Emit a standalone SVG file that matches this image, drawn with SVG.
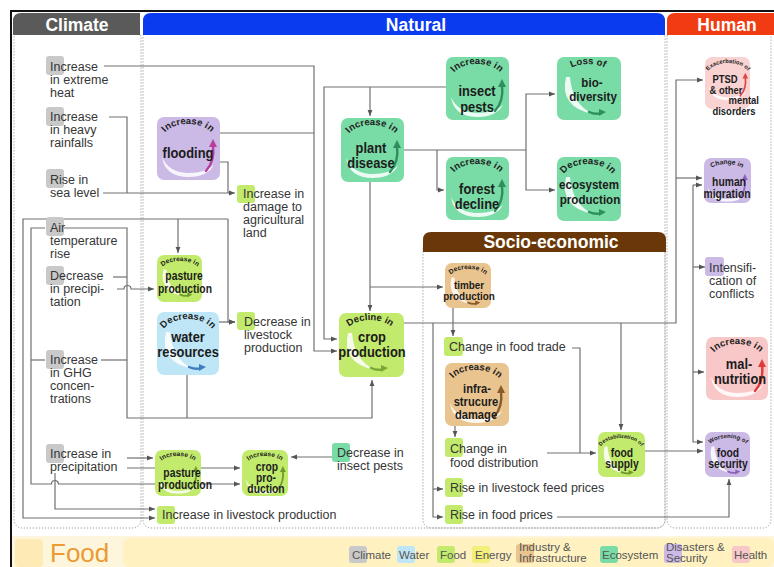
<svg xmlns="http://www.w3.org/2000/svg" width="774" height="567" viewBox="0 0 774 567">
<style>
  .t { font-family: "Liberation Sans", Arial, sans-serif; font-size: 12.5px; fill: #363636; }
  .lb { font-family: "Liberation Sans", Arial, sans-serif; font-weight: bold; font-size: 15px; fill: #1c1c1c; text-anchor: middle; }
  .ls { font-family: "Liberation Sans", Arial, sans-serif; font-weight: bold; font-size: 12px; fill: #1c1c1c; text-anchor: middle; }
  .arcL { font-family: "Liberation Sans", Arial, sans-serif; font-weight: bold; font-size: 9.5px; fill: #222; text-anchor: middle; }
  .arcS { font-family: "Liberation Sans", Arial, sans-serif; font-weight: bold; font-size: 6.6px; fill: #222; text-anchor: middle; }
  .hd { font-family: "Liberation Sans", Arial, sans-serif; font-weight: bold; font-size: 17.5px; fill: #fff; text-anchor: middle; }
  .lg { font-family: "Liberation Sans", Arial, sans-serif; font-size: 11.5px; fill: #555; }
  .cn path { fill: none; stroke: #717171; stroke-width: 1.2; }
  .m { marker-end: url(#ah); }
  .pan { fill: none; stroke: #9a9a9a; stroke-width: 1; stroke-dasharray: 1.2 1.8; }
  .sq { rx: 3; }
  .cli { fill: #c9c9c9; }
  .fd { fill: #c2ea6c; }
  .eco { fill: #79dba5; }
  .dis { fill: #cbb9e6; }
  .wat { fill: #bfe6f6; }
  .ind { fill: #eac48e; }
  .hl { fill: #f8c8c8; }
  .en { fill: #f2ef7a; }
  .bx { rx: 7; }
  .sw { fill: #fff; opacity: 0.85; }
  .tail { fill: none; stroke: currentColor; stroke-width: 2.4; stroke-linecap: round; }
  .head { fill: currentColor; }
</style>
<defs>
  <marker id="ah" viewBox="0 0 6 6" refX="6" refY="3" markerWidth="6" markerHeight="6" markerUnits="userSpaceOnUse" orient="auto">
    <path d="M0,0.6 L6,3 L0,5.4 Z" fill="#555"/>
  </marker>
  <!-- arcs carrying the curved captions, in box-local coordinates -->
  <path id="aL" d="M5,23 A26,16 0 0 1 57,23"/>
  <path id="aS" d="M3,17 A20,11 0 0 1 43,17"/>
  <path id="aS2" d="M1,20 A22,14 0 0 1 45,20"/>
  <!-- swooshes: rising (up) and falling (down) -->
  <g id="swU">
    <path class="sw" d="M5,40 Q8,60 32,60 Q50,60 57,48 Q48,56 32,56 Q12,56 5,40 Z"/>
    <path class="tail" d="M49,54 Q58,44 56,28"/>
    <path class="head" d="M52,30 L56,22 L60,30 Z"/>
  </g>
  <g id="swD">
    <path class="sw" d="M9,20 Q2,50 36,57 Q15,47 13,20 Z"/>
    <path class="tail" d="M32,55 Q39,58 44,56"/>
    <path class="head" d="M42,52 L49,55 L42,59 Z"/>
  </g>
</defs>

<!-- page frame -->
<rect x="0" y="0" width="774" height="567" fill="#fff"/>
<path d="M11,567 V11 H774" fill="none" stroke="#111" stroke-width="2"/>

<!-- column panels -->
<rect class="pan" x="14" y="30" width="127" height="498" rx="8"/>
<rect class="pan" x="143" y="30" width="522" height="498" rx="8"/>
<rect class="pan" x="667" y="30" width="104" height="498" rx="8"/>
<rect class="pan" x="423" y="240" width="242" height="288" rx="8"/>

<!-- column headers -->
<g id="hdr-climate">
  <path d="M13,35 V21 Q13,13 21,13 H140 V35 Z" fill="#5a5a5a"/>
  <text class="hd" x="77" y="31">Climate</text>
</g>
<g id="hdr-natural">
  <path d="M143,35 V21 Q143,13 151,13 H657 Q665,13 665,21 V35 Z" fill="#0a3bef"/>
  <text class="hd" x="416" y="31">Natural</text>
</g>
<g id="hdr-human">
  <path d="M667,35 V21 Q667,13 675,13 H774 V35 Z" fill="#f13b12"/>
  <text class="hd" x="727" y="31">Human</text>
</g>
<g id="hdr-socio">
  <path d="M423,252 V240 Q423,232 431,232 H658 Q666,232 666,240 V252 Z" fill="#6a3808"/>
  <text class="hd" x="551" y="248">Socio-economic</text>
</g>

<!-- connectors -->
<g class="cn" id="connectors">
  <path class="m" d="M104,66 H314 V351 H337"/>
  <path d="M220,133 H314"/>
  <path d="M109,117 H127 V193"/>
  <path class="m" d="M103,193 H235"/>
  <path d="M220,162 H228 V193"/>
  <path class="m" d="M446,87 H324 V339 H337"/>
  <path class="m" d="M370,87 V116"/>
  <path d="M404,150 H526"/>
  <path class="m" d="M526,150 V94 H555"/>
  <path class="m" d="M526,150 V190 H555"/>
  <path class="m" d="M437,150 V190 H444"/>
  <path class="m" d="M370,182 V311"/>
  <path class="m" d="M370,287 H443"/>
  <path class="m" d="M178,219 V253"/>
  <path class="m" d="M228,219 H23 V518 H155"/>
  <path class="m" d="M228,219 V322 H235"/>
  <path class="m" d="M63,228 H127 V418 H372 V380"/>
  <path d="M113,277 H127"/>
  <path class="m" d="M117,289 H124 a3.5,3.5 0 0 1 7,0 H154"/>
  <path d="M101,360 H127"/>
  <path class="m" d="M45,228 H31 V484 H51.5 a3.5,3.5 0 0 1 7,0 H240"/>
  <path d="M31,360 H45"/>
  <path class="m" d="M127,458 H153"/>
  <path class="m" d="M127,468 H240"/>
  <path class="m" d="M55,473 V509 H155"/>
  <path class="m" d="M219,322 H235"/>
  <path d="M187,375 V418"/>
  <path class="m" d="M404,323 H676 V80 H703"/>
  <path class="m" d="M676,178 H702"/>
  <path class="m" d="M433,323 V517 H443"/>
  <path class="m" d="M433,489 H443"/>
  <path class="m" d="M621,323 V430"/>
  <path class="m" d="M453,308 V336"/>
  <path d="M572,348 H580 V453"/>
  <path class="m" d="M547,453 H596"/>
  <path class="m" d="M455,426 V437"/>
  <path class="m" d="M645,451 H703"/>
  <path class="m" d="M693,185 H702"/>
  <path class="m" d="M693,185 V442 H703"/>
  <path class="m" d="M693,267 H705"/>
  <path class="m" d="M693,372 H704"/>
  <path class="m" d="M557,517 H729 V479"/>
  <path class="m" d="M332,457 H291"/>
</g>

<!-- climate drivers -->
<g id="n-heat">
  <rect class="sq cli" x="46" y="56" width="18" height="19"/>
  <text class="t" x="50" y="71">Increase</text>
  <text class="t" x="50" y="84">in extreme</text>
  <text class="t" x="50" y="97">heat</text>
</g>
<g id="n-rainfall">
  <rect class="sq cli" x="46" y="107" width="18" height="19"/>
  <text class="t" x="50" y="121">Increase</text>
  <text class="t" x="50" y="134">in heavy</text>
  <text class="t" x="50" y="147">rainfalls</text>
</g>
<g id="n-sealevel">
  <rect class="sq cli" x="46" y="169" width="18" height="19"/>
  <text class="t" x="50" y="184">Rise in</text>
  <text class="t" x="50" y="197">sea level</text>
</g>
<g id="n-airtemp">
  <rect class="sq cli" x="46" y="217" width="18" height="19"/>
  <text class="t" x="50" y="232">Air</text>
  <text class="t" x="50" y="245">temperature</text>
  <text class="t" x="50" y="258">rise</text>
</g>
<g id="n-precip-dec">
  <rect class="sq cli" x="46" y="266" width="18" height="19"/>
  <text class="t" x="50" y="280">Decrease</text>
  <text class="t" x="50" y="293">in precipi-</text>
  <text class="t" x="50" y="306">tation</text>
</g>
<g id="n-ghg">
  <rect class="sq cli" x="46" y="350" width="18" height="19"/>
  <text class="t" x="50" y="364">Increase</text>
  <text class="t" x="50" y="377">in GHG</text>
  <text class="t" x="50" y="390">concen-</text>
  <text class="t" x="50" y="403">trations</text>
</g>
<g id="n-precip-inc">
  <rect class="sq cli" x="46" y="444" width="18" height="19"/>
  <text class="t" x="50" y="458">Increase in</text>
  <text class="t" x="50" y="471">precipitation</text>
</g>

<!-- natural -->
<g id="n-flooding" transform="translate(157,117)" color="#b8409c">
  <rect class="bx dis" width="63" height="63"/>
  <use href="#swU"/>
  <text class="arcL"><textPath href="#aL" startOffset="50%">Increase in</textPath></text>
  <text class="lb" transform="translate(31,41) scale(.86,1)">flooding</text>
</g>
<g id="n-damage">
  <rect class="sq fd" x="237" y="185" width="18" height="18"/>
  <text class="t" x="243" y="198">Increase in</text>
  <text class="t" x="243" y="211">damage to</text>
  <text class="t" x="243" y="224">agricultural</text>
  <text class="t" x="243" y="237">land</text>
</g>
<g id="n-pasture-dec" transform="translate(157,255)" color="#6c9a2a">
  <rect class="bx fd" width="45" height="47"/>
  <g transform="scale(.72)"><use href="#swD"/></g>
  <text class="arcS"><textPath href="#aS" startOffset="50%">Decrease in</textPath></text>
  <text class="ls" transform="translate(27,25) scale(.86,1)">pasture</text>
  <text class="ls" transform="translate(28,38) scale(.86,1)">production</text>
</g>
<g id="n-water" transform="translate(157,312)" color="#3f7fc0">
  <rect class="bx wat" width="62" height="63"/>
  <use href="#swD"/>
  <text class="arcL"><textPath href="#aL" startOffset="50%">Decrease in</textPath></text>
  <text class="lb" transform="translate(31,30) scale(.86,1)">water</text>
  <text class="lb" transform="translate(31,45) scale(.86,1)">resources</text>
</g>
<g id="n-livestock-dec">
  <rect class="sq fd" x="237" y="312" width="18" height="18"/>
  <text class="t" x="244" y="326">Decrease in</text>
  <text class="t" x="244" y="339">livestock</text>
  <text class="t" x="244" y="352">production</text>
</g>
<g id="n-plant" transform="translate(341,118)" color="#2f8f5c">
  <rect class="bx eco" width="63" height="64"/>
  <use href="#swU"/>
  <text class="arcL"><textPath href="#aL" startOffset="50%">Increase in</textPath></text>
  <text class="lb" transform="translate(30,35) scale(.86,1)">plant</text>
  <text class="lb" transform="translate(30,50) scale(.86,1)">disease</text>
</g>
<g id="n-insect" transform="translate(446,57)" color="#2f8f5c">
  <rect class="bx eco" width="63" height="63"/>
  <use href="#swU"/>
  <text class="arcL"><textPath href="#aL" startOffset="50%">Increase in</textPath></text>
  <text class="lb" transform="translate(31,39) scale(.86,1)">insect</text>
  <text class="lb" transform="translate(31,55) scale(.86,1)">pests</text>
</g>
<g id="n-forest" transform="translate(446,157)" color="#2f8f5c">
  <rect class="bx eco" width="63" height="63"/>
  <use href="#swU"/>
  <text class="arcL"><textPath href="#aL" startOffset="50%">Increase in</textPath></text>
  <text class="lb" transform="translate(31,37) scale(.86,1)">forest</text>
  <text class="lb" transform="translate(31,52) scale(.86,1)">decline</text>
</g>
<g id="n-biodiversity" transform="translate(557,57)" color="#2f8f5c">
  <rect class="bx eco" width="64" height="63"/>
  <use href="#swD"/>
  <text class="arcL"><textPath href="#aL" startOffset="50%">Loss of</textPath></text>
  <text class="lb" transform="translate(35,30) scale(.86,1)" style="font-size:13.5px">bio-</text>
  <text class="lb" transform="translate(36,44) scale(.86,1)" style="font-size:13.5px">diversity</text>
</g>
<g id="n-ecosystem" transform="translate(557,157)" color="#2f8f5c">
  <rect class="bx eco" width="64" height="64"/>
  <use href="#swD"/>
  <text class="arcL"><textPath href="#aL" startOffset="50%">Decrease in</textPath></text>
  <text class="lb" transform="translate(32,32) scale(.86,1)" style="font-size:13.5px">ecosystem</text>
  <text class="lb" transform="translate(33,47) scale(.86,1)" style="font-size:13.5px">production</text>
</g>
<g id="n-crop-dec" transform="translate(339,313)" color="#7aa838">
  <rect class="bx fd" width="65" height="64"/>
  <use href="#swD"/>
  <text class="arcL"><textPath href="#aL" startOffset="50%">Decline in</textPath></text>
  <text class="lb" transform="translate(33,29) scale(.86,1)">crop</text>
  <text class="lb" transform="translate(33,44) scale(.86,1)">production</text>
</g>
<g id="n-pasture-inc" transform="translate(155,450)" color="#6c9a2a">
  <rect class="bx fd" width="46" height="46"/>
  <g transform="scale(.73)"><use href="#swU"/></g>
  <text class="arcS"><textPath href="#aS" startOffset="50%">Increase in</textPath></text>
  <text class="ls" transform="translate(27,27) scale(.86,1)">pasture</text>
  <text class="ls" transform="translate(30,39) scale(.86,1)">production</text>
</g>
<g id="n-crop-inc" transform="translate(242,450)" color="#6c9a2a">
  <rect class="bx fd" width="46" height="46"/>
  <g transform="scale(.73)"><use href="#swU"/></g>
  <text class="arcS"><textPath href="#aS" startOffset="50%">Increase in</textPath></text>
  <text class="ls" transform="translate(25,21) scale(.86,1)">crop</text>
  <text class="ls" transform="translate(24,32) scale(.86,1)">pro-</text>
  <text class="ls" transform="translate(24,43) scale(.86,1)">duction</text>
</g>
<g id="n-insect-dec">
  <rect class="sq eco" x="332" y="443" width="18" height="19"/>
  <text class="t" x="337" y="457">Decrease in</text>
  <text class="t" x="337" y="470">insect pests</text>
</g>
<g id="n-livestock-inc">
  <rect class="sq fd" x="157" y="506" width="18" height="18"/>
  <text class="t" x="162" y="519">Increase in livestock production</text>
</g>

<!-- socio-economic -->
<g id="n-timber" transform="translate(445,263)" color="#8a5a2a">
  <rect class="bx ind" width="46" height="45"/>
  <g transform="scale(.72)"><use href="#swD"/></g>
  <text class="arcS"><textPath href="#aS" startOffset="50%">Decrease in</textPath></text>
  <text class="ls" transform="translate(24,26) scale(.86,1)" style="font-size:11.5px">timber</text>
  <text class="ls" transform="translate(24,37) scale(.86,1)" style="font-size:11.5px">production</text>
</g>
<g id="n-trade">
  <rect class="sq fd" x="444" y="337" width="19" height="19"/>
  <text class="t" x="449" y="351">Change in food trade</text>
</g>
<g id="n-infra" transform="translate(445,363)" color="#8a5a2a">
  <rect class="bx ind" width="64" height="63"/>
  <use href="#swU"/>
  <text class="arcL"><textPath href="#aL" startOffset="50%">Increase in</textPath></text>
  <text class="lb" transform="translate(32,30) scale(.86,1)" style="font-size:13px">infra-</text>
  <text class="lb" transform="translate(31,43) scale(.86,1)" style="font-size:13px">strucure</text>
  <text class="lb" transform="translate(31,56) scale(.86,1)" style="font-size:13px">damage</text>
</g>
<g id="n-distribution">
  <rect class="sq fd" x="445" y="438" width="18" height="19"/>
  <text class="t" x="450" y="453">Change in</text>
  <text class="t" x="450" y="467">food distribution</text>
</g>
<g id="n-feed-prices">
  <rect class="sq fd" x="445" y="478" width="18" height="19"/>
  <text class="t" x="450" y="492">Rise in livestock feed prices</text>
</g>
<g id="n-food-prices">
  <rect class="sq fd" x="445" y="505" width="18" height="19"/>
  <text class="t" x="450" y="519">Rise in food prices</text>
</g>
<g id="n-food-supply" transform="translate(598,432)" color="#6c9a2a">
  <rect class="bx fd" width="47" height="45"/>
  <g transform="scale(.73)"><use href="#swD"/></g>
  <text class="arcS" style="font-size:5.4px"><textPath href="#aS2" startOffset="50%">Destabilization of</textPath></text>
  <text class="ls" transform="translate(24,25) scale(.86,1)">food</text>
  <text class="ls" transform="translate(24,36) scale(.86,1)">supply</text>
</g>

<!-- human -->
<g id="n-ptsd" transform="translate(705,57)" color="#e04848">
  <rect class="bx" width="45" height="52" fill="#f9d2d2"/>
  <g transform="scale(.72)"><use href="#swU"/></g>
  <text class="arcS" style="font-size:5.8px"><textPath href="#aS2" startOffset="50%">Exacerbation of</textPath></text>
  <text class="ls" transform="translate(20,26) scale(.86,1)" style="font-size:11px">PTSD</text>
  <text class="ls" transform="translate(21,36.5) scale(.86,1)" style="font-size:11px">&amp; other</text>
  <text class="ls" transform="translate(54,47) scale(.86,1)" style="font-size:11px;text-anchor:end">mental</text>
  <text class="ls" transform="translate(29,57.5) scale(.86,1)" style="font-size:11px">disorders</text>
</g>
<g id="n-migration" transform="translate(704,158)" color="#8a62b8">
  <rect class="bx dis" width="47" height="45"/>
  <g transform="scale(.73)"><use href="#swU"/></g>
  <text class="arcS"><textPath href="#aS" startOffset="50%">Change in</textPath></text>
  <text class="ls" transform="translate(25,28) scale(.86,1)">human</text>
  <text class="ls" transform="translate(23,40) scale(.86,1)">migration</text>
</g>
<g id="n-conflicts">
  <rect class="sq dis" x="705" y="257" width="19" height="19"/>
  <text class="t" x="709" y="272">Intensifi-</text>
  <text class="t" x="709" y="285">cation of</text>
  <text class="t" x="709" y="298">conflicts</text>
</g>
<g id="n-malnutrition" transform="translate(706,337)" color="#e03a3a">
  <rect class="bx hl" width="62" height="63"/>
  <use href="#swU"/>
  <text class="arcL"><textPath href="#aL" startOffset="50%">Increase in</textPath></text>
  <text class="lb" transform="translate(33,32) scale(.86,1)">mal-</text>
  <text class="lb" transform="translate(34,47) scale(.86,1)">nutrition</text>
</g>
<g id="n-food-security" transform="translate(705,432)" color="#8a62b8">
  <rect class="bx dis" width="45" height="45"/>
  <g transform="scale(.72)"><use href="#swD"/></g>
  <text class="arcS" style="font-size:6px"><textPath href="#aS2" startOffset="50%">Worsening of</textPath></text>
  <text class="ls" transform="translate(23,25) scale(.86,1)">food</text>
  <text class="ls" transform="translate(23,36) scale(.86,1)">security</text>
</g>

<!-- footer band with legend -->
<g id="footer">
  <rect x="12" y="536" width="762" height="31" fill="#fdf6dc"/>
  <rect x="15" y="539" width="28" height="28" rx="4" fill="#fdeab4"/>
  <text x="50" y="562" style="font-family:'Liberation Sans',Arial,sans-serif;font-size:26px;fill:#eb9a34">Food</text>
  <rect x="123" y="538" width="651" height="29" rx="6" fill="#fff1c0"/>
  <rect class="sq cli" x="349" y="546" width="18" height="17"/>
  <text class="lg" x="352" y="559">Climate</text>
  <rect class="sq wat" x="397" y="546" width="18" height="17"/>
  <text class="lg" x="399" y="559">Water</text>
  <rect class="sq fd" x="437" y="546" width="18" height="17"/>
  <text class="lg" x="440" y="559">Food</text>
  <rect class="sq en" x="472" y="546" width="18" height="17"/>
  <text class="lg" x="475" y="559">Energy</text>
  <rect class="sq ind" x="516" y="544" width="18" height="19"/>
  <text class="lg" x="519" y="551">Industry &amp;</text>
  <text class="lg" x="519" y="562">Infrastructure</text>
  <rect class="sq eco" x="600" y="546" width="18" height="17"/>
  <text class="lg" x="602" y="559">Ecosystem</text>
  <rect class="sq dis" x="664" y="544" width="18" height="19"/>
  <text class="lg" x="666" y="551">Disasters &amp;</text>
  <text class="lg" x="666" y="562">Security</text>
  <rect class="sq hl" x="732" y="546" width="18" height="17"/>
  <text class="lg" x="734" y="559">Health</text>
</g>
</svg>
